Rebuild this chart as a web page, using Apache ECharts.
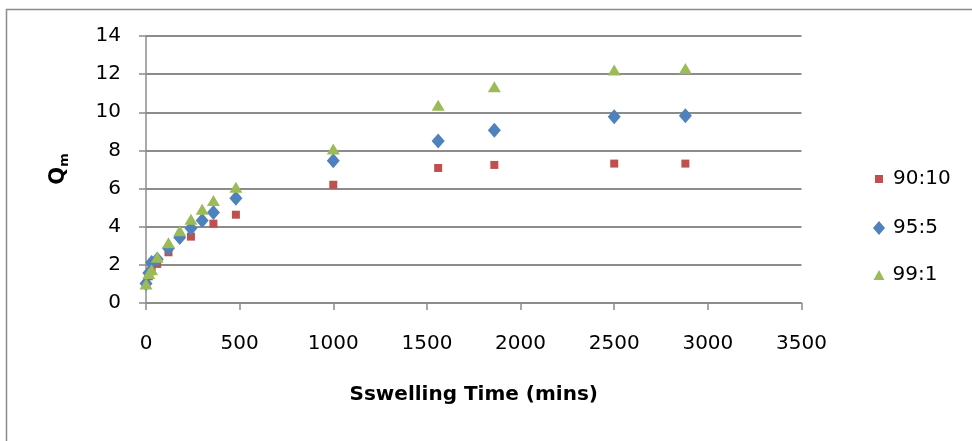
<!DOCTYPE html>
<html>
<head>
<meta charset="utf-8">
<script src="https://cdn.jsdelivr.net/npm/echarts@6/dist/echarts.min.js"></script>
<style>html,body{margin:0;padding:0;background:#fff}#c{width:972px;height:441px}</style>
</head>
<body>
<div id="c"></div>
<script>
// Data (swelling time in minutes, Qm values)
const time = [0, 15, 30, 60, 120, 180, 240, 300, 360, 480, 1000, 1560, 1860, 2500, 2880];
const s90_10 = [1.0, 1.4, 1.85, 2.05, 2.66, null, 3.48, null, 4.16, 4.63, 6.2, 7.08, 7.24, 7.31, 7.31];
const s95_5  = [1.02, 1.57, 2.12, 2.3, 2.87, 3.44, 3.92, 4.32, 4.74, 5.49, 7.46, 8.5, 9.06, 9.77, 9.82];
const s99_1  = [1.0, 1.55, 1.75, 2.4, 3.16, 3.79, 4.39, 4.91, 5.38, 6.07, 8.08, 10.37, 11.34, 12.22, 12.29];
const seriesNames = ['90:10', '95:5', '99:1'];
const xTicks = [0, 500, 1000, 1500, 2000, 2500, 3000, 3500];
const yTicks = [0, 2, 4, 6, 8, 10, 12, 14];

function pairs(vals) {
  const out = [];
  vals.forEach((v, i) => { if (v !== null) out.push([time[i], v]); });
  return out;
}

const font = '"DejaVu Sans", "Open Sans", sans-serif';
const colors = ['#C0504D', '#4F81BD', '#9BBB59'];
const chart = echarts.init(document.getElementById('c'), null, {renderer: 'canvas'});

function legendFor(i, icon, w, h, left, centerY, padLeft) {
  return {
    orient: 'vertical', left: left, top: centerY - 13, padding: 0,
    itemWidth: w, itemHeight: h, icon: icon,
    textStyle: {fontFamily: font, fontSize: 20, color: '#000', lineHeight: 26, padding: [0, 0, 0, padLeft]},
    data: [seriesNames[i]]
  };
}

chart.setOption({
  animation: false,
  backgroundColor: '#fff',
  graphic: [
    {type: 'rect', left: 4, top: 7, shape: {x: 0, y: 0, width: 990, height: 450},
     style: {fill: 'none', stroke: '#8c8c8c', lineWidth: 1.5}, silent: true, z: -1},
    {type: 'text', x: 59, y: 169, rotation: Math.PI / 2, silent: true,
     style: {
       text: '{q|Q}{m|m}', align: 'center', verticalAlign: 'middle',
       rich: {
         q: {fontFamily: font, fontSize: 21, fontWeight: 'bold', fill: '#000'},
         m: {fontFamily: font, fontSize: 13, fontWeight: 'bold', fill: '#000', padding: [12, 0, 0, 0]}
       }
     }}
  ],
  grid: {left: 146, right: 170.5, top: 36, bottom: 138, containLabel: false},
  legend: [
    legendFor(0, 'rect', 8, 8, 875, 179, 5),
    legendFor(1, 'diamond', 12, 14, 873, 228, 3),
    legendFor(2, 'triangle', 11, 10, 873.5, 275, 3)
  ],
  xAxis: {
    type: 'value', min: xTicks[0], max: xTicks[xTicks.length - 1], interval: 500,
    name: 'Sswelling Time (mins)', nameLocation: 'middle', nameGap: 82,
    nameTextStyle: {fontFamily: font, fontSize: 20, fontWeight: 'bold', color: '#000'},
    axisLine: {show: true, lineStyle: {color: '#8c8c8c', width: 1.5}},
    axisTick: {show: true, length: 7, lineStyle: {color: '#8c8c8c', width: 1.5}},
    axisLabel: {fontFamily: font, fontSize: 20, color: '#000', margin: 31,
                formatter: v => String(v)},
    splitLine: {show: false}
  },
  yAxis: {
    type: 'value', min: yTicks[0], max: yTicks[yTicks.length - 1], interval: 2,
    axisLine: {show: true, lineStyle: {color: '#8c8c8c', width: 1.5}},
    axisTick: {show: true, length: 7, lineStyle: {color: '#8c8c8c', width: 1.5}},
    axisLabel: {fontFamily: font, fontSize: 20, color: '#000', margin: 25},
    splitLine: {show: true, lineStyle: {color: '#8c8c8c', width: 2}}
  },
  series: [
    {name: seriesNames[0], type: 'scatter', symbol: 'rect', symbolSize: 8,
     itemStyle: {color: colors[0], opacity: 1}, data: pairs(s90_10), z: 2},
    {name: seriesNames[1], type: 'scatter', symbol: 'diamond', symbolSize: [13, 15],
     itemStyle: {color: colors[1], opacity: 1}, data: pairs(s95_5), z: 3},
    {name: seriesNames[2], type: 'scatter', symbol: 'triangle', symbolSize: [13, 11],
     itemStyle: {color: colors[2], opacity: 1}, data: pairs(s99_1), z: 4}
  ]
});
</script>
</body>
</html>
